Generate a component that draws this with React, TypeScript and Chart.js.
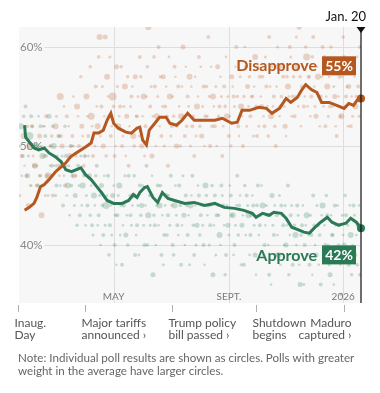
import { useEffect, useRef } from "react";
import { Chart, registerables } from "chart.js";

Chart.register(...registerables);

// ---- Data (days since Jan. 20, 2025) ----
const disapproveDays = [6,11,16,19,23,27,32,39,45,50,55,61,66,71,77,80,85,90,94,98,101,106,114,120,126,129,132,136,139,145,150,157,161,168,174,180,187,198,209,217,227,233,238,246,256,264,270,278,285,290,297,302,306,312,318,323,331,339,347,352,357,363,365];
const disapproveValues = [43.5,43.8,44.2,44.8,45.9,46.1,46.6,47.4,47.9,48.3,48.9,49.3,49.6,49.9,50.3,51.3,51.3,51.6,52.6,53.3,52.3,51.8,51.4,51.3,51.8,51.9,50.6,50.1,51.6,52.3,52.9,52.9,52.3,52.1,52.6,53.3,52.6,52.6,52.6,52.8,52.3,52.4,53.6,53.6,53.9,53.8,53.3,53.8,54.8,54.4,54.9,55.7,56.2,55.7,55.4,54.4,54.4,54.1,53.8,54.3,54.1,54.9,54.8];

const approveDays = [6,7,16,21,27,32,39,45,50,56,66,71,77,83,88,94,101,110,117,122,126,129,134,137,143,148,153,159,166,177,187,198,209,219,230,240,249,253,260,267,272,280,285,291,299,304,310,315,322,329,334,341,349,354,360,365];
const approveValues = [52.1,50.9,49.8,49.6,49.8,49.3,48.9,48.4,47.6,47.4,47.8,47.1,46.6,45.9,45.3,44.5,44.2,44.2,44.5,45.1,44.8,45.3,45.8,45.9,44.8,44.3,45.3,44.7,44.5,44.2,44.3,44.0,44.2,43.8,43.7,43.5,43.2,42.8,43.2,43.0,43.3,43.2,42.7,41.8,41.5,41.3,41.2,41.7,42.3,42.8,42.3,42.0,42.2,42.7,42.3,41.7];

// individual polls: [day, value, weight(radius)]
const disapprovePolls: [number, number, number][] = [
  [3,49,2],[5,51,3],[8,47,2],[10,44,2.5],[12,50,4],[14,52,2],[17,48,3],[19,46,2],[22,51,2.5],[24,43,3],[27,49,2],[29,53,2],[31,47,3.5],[34,50,2],[36,45,2],[39,52,3],[41,48,2],[44,55,3.5],[46,50,2.5],[49,46,2],[51,53,2],[54,49,3],[57,51,2],[59,47,2.5],[62,54,3],[64,50,2],[67,52,2.5],[69,48,2],[72,55,3],[74,51,2],[77,53,3.5],[79,49,2],[82,56,2],[84,52,3],[86,61,3],[88,54,2],[90,50,2.5],[92,61,2.5],[94,57,3],[96,53,2],[98,51,2],[100,55,4],[102,49,2],[104,58,2.5],[106,52,3],[108,54,2],[110,50,2],[113,56,3],[115,53,2.5],[117,48,2],[120,55,2],[122,51,3],[124,57,2.5],[126,53,2],[129,59,2],[131,50,2.5],[133,55,3],[135,52,2],[138,62,3],[140,54,2],[142,49,2.5],[145,56,2],[147,53,3],[149,60,2],[152,51,2],[154,57,2.5],[156,54,2],[159,48,2],[161,55,3],[163,52,2],[166,58,2],[168,50,2.5],[170,56,2],[173,53,3],[175,60,2.5],[177,51,2],[180,55,2],[182,57,3],[185,52,2],[187,49,2],[190,54,3],[192,59,2],[195,51,2.5],[197,56,2],[199,53,2],[202,61,2],[204,50,2],[207,55,3],[209,52,2],[212,58,2.5],[214,54,2],[217,49,2],[219,56,2],[222,53,3],[224,51,2],[227,57,2.5],[229,55,2],[232,60,2],[234,52,2],[237,54,3],[239,50,2],[242,58,2],[244,56,2.5],[247,53,2],[249,55,2],[252,59,3],[254,51,2],[257,57,2],[259,54,2.5],[262,52,2],[264,56,2],[267,61,2],[269,53,3],[272,55,2],[274,50,2],[277,58,3],[279,54,2],[282,57,2],[284,52,2.5],[287,56,3],[289,60,2],[292,55,2],[294,53,2],[297,58,3],[299,62,2.5],[302,56,2],[304,54,2],[307,59,3.5],[309,57,2],[312,55,2],[314,61,2],[317,53,2.5],[319,57,3],[322,55,2],[324,60,2],[327,52,2],[329,56,3],[332,54,2],[334,58,2],[337,55,2.5],[339,51,2],[342,57,2],[344,53,3],[347,59,2],[349,55,2],[352,56,2.5],[354,52,2],[357,58,2],[359,54,3],[362,56,2],[364,60,2],
  [1,45,1.5],[6,48,1.3],[9,52,1.8],[13,46,1.3],[15,49,1.5],[20,50,1.3],[23,47,1.8],[26,52,1.3],[28,45,1.5],[33,48,1.3],[35,51,1.8],[38,49,1.3],[40,53,1.5],[43,47,1.3],[45,51,1.8],[48,54,1.3],[50,48,1.5],[53,52,1.3],[56,50,1.8],[58,55,1.3],[61,49,1.5],[63,53,1.3],[66,57,1.8],[68,51,1.3],[71,49,1.5],[73,53,1.3],[76,58,1.8],[78,52,1.3],[81,50,1.5],[83,54,1.3],[85,59,1.8],[87,51,1.3],[89,56,1.5],[91,53,1.3],[93,49,1.8],[95,55,1.3],[97,59,1.5],[99,52,1.3],[101,54,1.8],[103,50,1.3],[105,56,1.5],[107,53,1.3],[109,58,1.8],[111,51,1.3],[112,54,1.5],[114,49,1.3],[116,57,1.8],[118,52,1.3],[119,54,1.5],[121,56,1.3],[123,50,1.8],[125,53,1.3],[127,55,1.5],[128,51,1.3],[130,57,1.8],[132,53,1.3],[134,49,1.5],[136,55,1.3],[137,58,1.8],[139,51,1.3],[141,56,1.5],[143,53,1.3],[144,59,1.8],[146,50,1.3],[148,55,1.5],[150,52,1.3],[151,57,1.8],[153,54,1.3],[155,50,1.5],[157,56,1.3],[158,53,1.8],[160,59,1.3],[162,51,1.5],[164,55,1.3],[165,53,1.8],[167,57,1.3],[169,52,1.5],[171,54,1.3],[172,50,1.8],[174,56,1.3],[176,53,1.5],[178,58,1.3],[179,52,1.8],[181,54,1.3],[183,50,1.5],[184,56,1.3],[186,53,1.8],[188,57,1.3],[189,51,1.5],[191,55,1.3],[193,52,1.8],[194,58,1.3],[196,54,1.5],[198,50,1.3],[200,56,1.8],[201,53,1.3],[203,55,1.5],[205,58,1.3],[206,52,1.8],[208,54,1.3],[210,56,1.5],[211,50,1.3],[213,53,1.8],[215,57,1.3],[216,55,1.5],[218,52,1.3],[220,54,1.8],[221,59,1.3],[223,55,1.5],[225,53,1.3],[226,50,1.8],[228,56,1.3],[230,54,1.5],[231,58,1.3],[233,55,1.8],[235,51,1.3],[236,57,1.5],[238,53,1.3],[240,55,1.8],[241,60,1.3],[243,52,1.5],[245,54,1.3],[246,57,1.8],[248,55,1.3],[250,51,1.5],[251,56,1.3],[253,54,1.8],[255,58,1.3],[256,52,1.5],[258,55,1.3],[260,57,1.8],[261,53,1.3],[263,59,1.5],[265,54,1.3],[266,51,1.8],[268,56,1.3],[270,58,1.5],[271,54,1.3],[273,52,1.8],[275,56,1.3],[276,60,1.5],[278,53,1.3],[280,55,1.8],[281,58,1.3],[283,54,1.5],[285,51,1.3],[286,57,1.8],[288,55,1.3],[290,59,1.5],[291,53,1.3],[293,57,1.8],[295,55,1.3],[296,61,1.5],[298,54,1.3],[300,57,1.8],[301,52,1.3],[303,58,1.5],[305,55,1.3],[306,60,1.8],[308,54,1.3],[310,57,1.5],[311,53,1.3],[313,59,1.8],[315,56,1.3],[316,54,1.5],[318,58,1.3],[320,55,1.8],[321,52,1.3],[323,57,1.5],[325,54,1.3],[326,59,1.8],[328,55,1.3],[330,53,1.5],[331,57,1.3],[333,60,1.8],[335,54,1.3],[336,56,1.5],[338,52,1.3],[340,58,1.8],[341,55,1.3],[343,53,1.5],[345,57,1.3],[346,61,1.8],[348,54,1.3],[350,56,1.5],[351,52,1.3],[353,58,1.8],[355,55,1.3],[356,53,1.5],[358,57,1.3],[360,55,1.8],[361,59,1.3],[363,53,1.5]
];

const approvePolls: [number, number, number][] = [
  [2,52,3],[4,49,2],[7,54,2],[9,47,2.5],[11,51,4],[13,53,2],[16,48,2],[18,50,3.5],[20,46,2],[23,52,2],[25,49,3],[28,51,2],[30,47,2],[32,53,2.5],[35,48,2],[37,50,3],[40,46,2],[42,51,2],[45,48,2.5],[47,44,2],[50,49,2],[52,46,3],[55,50,2],[57,47,2],[60,45,2.5],[63,48,2],[65,43,2],[68,46,3],[70,49,2],[73,44,2],[75,47,2.5],[78,42,2],[80,45,3],[83,48,2],[85,43,2],[88,46,2.5],[90,41,2],[93,44,3.5],[95,47,2],[97,42,2],[100,45,2.5],[102,40,2],[105,43,2],[107,46,3],[110,38,2],[112,44,2],[114,41,2.5],[117,47,2],[119,43,2],[122,45,3],[124,39,2],[126,42,2],[129,46,2],[131,44,2.5],[134,40,2],[136,48,2],[138,43,3],[141,45,2],[143,37,2.5],[145,42,2],[148,46,2],[150,44,3],[152,39,2],[155,41,2],[157,45,2.5],[159,43,2],[162,47,2],[164,40,2],[166,44,3],[169,42,2],[171,46,2],[173,38,2],[176,43,2.5],[178,45,2],[180,41,2],[183,44,3],[185,47,2],[187,39,2],[190,42,2.5],[192,45,2],[194,43,2],[197,40,2],[199,46,3],[202,44,2],[204,42,2],[207,37,2.5],[209,45,2],[211,43,2],[214,41,3],[216,46,2],[218,44,2],[221,39,2],[223,42,2.5],[226,45,2],[228,43,3],[230,40,2],[233,47,2],[235,44,2],[238,42,2.5],[240,38,2],[243,45,2],[245,43,3],[247,41,2],[250,44,2],[252,39,2.5],[255,46,2],[257,42,2],[260,44,3],[262,40,2],[265,43,2],[267,37,2],[270,45,2.5],[272,41,2],[275,43,2],[277,39,3],[280,44,2],[282,42,2],[285,40,2.5],[287,46,2],[290,43,2],[292,38,2],[295,41,3],[297,44,2],[300,36,2.5],[302,42,2],[305,40,2],[307,43,3],[310,38,2],[312,41,2],[314,45,2],[317,39,2.5],[319,42,2],[322,36,2],[324,44,3],[327,40,2],[329,43,2],[332,37,2.5],[334,41,2],[337,44,2],[339,39,3],[342,42,2],[344,35,2],[347,40,2.5],[349,43,2],[352,38,2],[354,41,3],[357,44,2],[359,39,2],[362,42,2.5],[364,37,2],
  [1,50,1.5],[3,47,1.3],[5,53,1.8],[8,51,1.3],[10,49,1.5],[12,46,1.3],[14,52,1.8],[17,50,1.3],[19,48,1.5],[21,53,1.3],[22,47,1.8],[24,50,1.3],[26,46,1.5],[27,52,1.3],[29,49,1.8],[31,45,1.3],[33,50,1.5],[34,47,1.3],[36,52,1.8],[38,48,1.3],[39,45,1.5],[41,49,1.3],[43,51,1.8],[44,46,1.3],[46,49,1.5],[48,47,1.3],[49,52,1.8],[51,45,1.3],[53,48,1.5],[54,43,1.3],[56,46,1.8],[58,50,1.3],[59,44,1.5],[61,47,1.3],[62,42,1.8],[64,46,1.3],[66,49,1.5],[67,44,1.3],[69,47,1.8],[71,42,1.3],[72,45,1.5],[74,49,1.3],[76,43,1.8],[77,46,1.3],[79,41,1.5],[81,44,1.3],[82,47,1.8],[84,42,1.3],[86,45,1.5],[87,40,1.3],[89,44,1.8],[91,47,1.3],[92,42,1.5],[94,45,1.3],[96,39,1.8],[98,44,1.3],[99,41,1.5],[101,46,1.3],[103,43,1.8],[104,38,1.3],[106,45,1.5],[108,41,1.3],[109,44,1.8],[111,42,1.3],[113,47,1.5],[115,43,1.3],[116,40,1.8],[118,45,1.3],[120,42,1.5],[121,44,1.3],[123,47,1.8],[125,41,1.3],[127,44,1.5],[128,39,1.3],[130,43,1.8],[132,46,1.3],[133,42,1.5],[135,44,1.3],[137,40,1.8],[139,45,1.3],[140,42,1.5],[142,47,1.3],[144,43,1.8],[146,40,1.3],[147,44,1.5],[149,42,1.3],[151,46,1.8],[153,43,1.3],[154,38,1.5],[156,44,1.3],[158,41,1.8],[160,45,1.3],[161,42,1.5],[163,44,1.3],[165,39,1.8],[167,46,1.3],[168,43,1.5],[170,41,1.3],[172,44,1.8],[174,42,1.3],[175,47,1.5],[177,40,1.3],[179,44,1.8],[181,43,1.3],[182,38,1.5],[184,45,1.3],[186,42,1.8],[188,44,1.3],[189,40,1.5],[191,46,1.3],[193,41,1.8],[195,44,1.3],[196,42,1.5],[198,38,1.3],[200,45,1.8],[201,43,1.3],[203,40,1.5],[205,44,1.3],[206,46,1.8],[208,42,1.3],[210,39,1.5],[212,44,1.3],[213,43,1.8],[215,40,1.3],[217,45,1.5],[219,42,1.3],[220,37,1.8],[222,44,1.3],[224,41,1.5],[225,46,1.3],[227,43,1.8],[229,39,1.3],[231,42,1.5],[232,44,1.3],[234,41,1.8],[236,45,1.3],[237,38,1.5],[239,43,1.3],[241,46,1.8],[242,41,1.3],[244,44,1.5],[246,39,1.3],[248,43,1.8],[249,45,1.3],[251,42,1.5],[253,37,1.3],[254,44,1.8],[256,41,1.3],[258,43,1.5],[259,46,1.3],[261,39,1.8],[263,42,1.3],[264,44,1.5],[266,40,1.3],[268,43,1.8],[269,36,1.3],[271,42,1.5],[273,44,1.3],[274,39,1.8],[276,41,1.3],[278,45,1.5],[279,38,1.3],[281,43,1.8],[283,40,1.3],[284,44,1.5],[286,42,1.3],[288,37,1.8],[289,41,1.3],[291,44,1.5],[293,39,1.3],[294,42,1.8],[296,40,1.3],[298,43,1.5],[299,38,1.3],[301,41,1.8],[303,44,1.3],[304,36,1.5],[306,42,1.3],[308,39,1.8],[309,41,1.3],[311,43,1.5],[313,37,1.3],[315,42,1.8],[316,40,1.3],[318,44,1.5],[320,38,1.3],[321,41,1.8],[323,43,1.3],[325,39,1.5],[326,42,1.3],[328,45,1.8],[330,40,1.3],[331,38,1.5],[333,43,1.3],[335,41,1.8],[336,36,1.3],[338,42,1.5],[340,44,1.3],[341,40,1.8],[343,38,1.3],[345,43,1.5],[346,41,1.3],[348,45,1.8],[350,39,1.3],[351,42,1.5],[353,44,1.3],[355,37,1.8],[356,40,1.3],[358,43,1.5],[360,41,1.3],[361,38,1.8],[363,44,1.3]
];

const yTickValues = [40, 50, 60];
const monthTickDays = [101, 224, 346];
const monthTickLabels = ["MAY", "SEPT.", "2026"];
const eventDays = [0, 72, 164, 254, 348];
const eventLabels = [
  ["Inaug.", "Day"],
  ["Major tariffs", "announced \u203a"],
  ["Trump policy", "bill passed \u203a"],
  ["Shutdown", "begins"],
  ["Maduro", "captured \u203a"],
];
const endDay = 365;
const endLabel = "Jan. 20";
const seriesNames = ["Disapprove", "Approve"];
const seriesFinal = ["55%", "42%"];
const seriesLabelAt = [58.1, 39.0];
const noteLines = [
  "Note: Individual poll results are shown as circles. Polls with greater",
  "weight in the average have larger circles.",
];

const ORANGE = "#b5581f";
const GREEN = "#2b7a56";
const FONT = "Lato, Roboto, 'Liberation Sans', Arial, sans-serif";

const decorPlugin = {
  id: "decor",
  beforeDatasetsDraw(chart: any) {
    const { ctx, chartArea: a, scales } = chart;
    const x = scales.x, y = scales.y;
    ctx.save();
    ctx.fillStyle = "#f7f7f7";
    ctx.fillRect(a.left, a.top, a.right - a.left, a.bottom - a.top);
    ctx.strokeStyle = "#dedede";
    ctx.lineWidth = 1;
    monthTickDays.forEach((d) => {
      const px = Math.round(x.getPixelForValue(d)) + 0.5;
      ctx.beginPath();
      ctx.moveTo(px, a.top);
      ctx.lineTo(px, a.bottom);
      ctx.stroke();
    });
    ctx.font = `11.5px ${FONT}`;
    ctx.textBaseline = "middle";
    ctx.textAlign = "left";
    yTickValues.forEach((v) => {
      const py = Math.round(y.getPixelForValue(v)) + 0.5;
      const lbl = `${v}%`;
      const w = ctx.measureText(lbl).width;
      ctx.fillStyle = "#8a8a8a";
      ctx.fillText(lbl, a.left + 1, py);
      ctx.beginPath();
      ctx.moveTo(a.left + w + 3, py);
      ctx.lineTo(a.right, py);
      ctx.stroke();
    });
    ctx.font = `10px ${FONT}`;
    ctx.textAlign = "center";
    ctx.textBaseline = "alphabetic";
    ctx.fillStyle = "#7a7a7a";
    monthTickDays.forEach((d, i) => {
      ctx.fillText(monthTickLabels[i], x.getPixelForValue(d), a.bottom - 3);
    });
    ctx.restore();
  },
  afterDatasetsDraw(chart: any) {
    const { ctx, chartArea: a, scales } = chart;
    const x = scales.x, y = scales.y;
    const xe = x.getPixelForValue(endDay);
    ctx.save();
    ctx.strokeStyle = "#111";
    ctx.lineWidth = 1.2;
    ctx.beginPath();
    ctx.moveTo(xe, a.top);
    ctx.lineTo(xe, a.bottom);
    ctx.stroke();
    ctx.fillStyle = "#111";
    ctx.beginPath();
    ctx.moveTo(xe - 4.5, a.top);
    ctx.lineTo(xe + 4.5, a.top);
    ctx.lineTo(xe, a.top + 6);
    ctx.closePath();
    ctx.fill();
    ctx.font = `13px ${FONT}`;
    ctx.textAlign = "right";
    ctx.textBaseline = "alphabetic";
    ctx.fillText(endLabel, xe + 5, a.top - 6);

    const colors = [ORANGE, GREEN];
    seriesNames.forEach((name, i) => {
      const cy = y.getPixelForValue(seriesLabelAt[i]);
      const bx = xe - 39, bw = 34, bh = 19;
      ctx.fillStyle = colors[i];
      ctx.fillRect(bx, cy - bh / 2, bw, bh);
      ctx.font = `bold 14px ${FONT}`;
      ctx.textAlign = "center";
      ctx.textBaseline = "middle";
      ctx.fillStyle = "#fff";
      ctx.fillText(seriesFinal[i], bx + bw / 2, cy + 0.5);
      ctx.font = `bold 16px ${FONT}`;
      ctx.textAlign = "right";
      ctx.fillStyle = colors[i];
      ctx.fillText(name, bx - 5, cy + 0.5);
    });

    ctx.strokeStyle = "#b0b0b0";
    ctx.lineWidth = 1;
    ctx.font = `12px ${FONT}`;
    ctx.textBaseline = "alphabetic";
    ctx.fillStyle = "#555";
    eventDays.forEach((d, i) => {
      const px = Math.round(x.getPixelForValue(d)) - 0.5;
      ctx.beginPath();
      ctx.moveTo(px, a.bottom + 2);
      ctx.lineTo(px, a.bottom + 9);
      ctx.stroke();
      const rightAlign = px > a.right - 40;
      ctx.textAlign = rightAlign ? "right" : "left";
      const tx = rightAlign ? px + 7 : px - 4;
      eventLabels[i].forEach((line, j) => {
        ctx.fillText(line, tx, a.bottom + 24 + j * 12);
      });
    });

    ctx.font = `11.6px ${FONT}`;
    ctx.fillStyle = "#666";
    ctx.textAlign = "left";
    noteLines.forEach((line, j) => {
      ctx.fillText(line, 18, a.bottom + 58.5 + j * 13);
    });
    ctx.restore();
  },
};

export default function App() {
  const ref = useRef<HTMLCanvasElement>(null);
  useEffect(() => {
    if (!ref.current) return;
    const lastIdx = (arr: number[]) => arr.length - 1;
    const chart = new Chart(ref.current, {
      type: "line",
      data: {
        datasets: [
          {
            type: "line",
            label: "Disapprove",
            data: disapproveDays.map((d, i) => ({ x: d, y: disapproveValues[i] })),
            borderColor: ORANGE,
            backgroundColor: ORANGE,
            borderWidth: 3,
            tension: 0,
            pointRadius: (c: any) => (c.dataIndex === lastIdx(disapproveDays) ? 4 : 0),
            pointBorderWidth: 0,
            order: 0,
            clip: 6,
          } as any,
          {
            type: "line",
            label: "Approve",
            data: approveDays.map((d, i) => ({ x: d, y: approveValues[i] })),
            borderColor: GREEN,
            backgroundColor: GREEN,
            borderWidth: 3,
            tension: 0,
            pointRadius: (c: any) => (c.dataIndex === lastIdx(approveDays) ? 4 : 0),
            pointBorderWidth: 0,
            order: 0,
            clip: 6,
          } as any,
          {
            type: "bubble",
            label: "Disapprove polls",
            data: disapprovePolls.map(([d, v, r]) => ({ x: d, y: v, r })),
            backgroundColor: "rgba(200,120,75,0.3)",
            borderWidth: 0,
            order: 1,
          } as any,
          {
            type: "bubble",
            label: "Approve polls",
            data: approvePolls.map(([d, v, r]) => ({ x: d, y: v, r })),
            backgroundColor: "rgba(70,140,105,0.28)",
            borderWidth: 0,
            order: 1,
          } as any,
        ],
      },
      options: {
        animation: false,
        responsive: false,
        maintainAspectRatio: false,
        layout: { padding: { left: 19, right: 19, top: 27, bottom: 90 } },
        scales: {
          x: { type: "linear", min: 0, max: 365, display: false },
          y: { type: "linear", min: 34.14, max: 62.02, display: false },
        },
        plugins: { legend: { display: false }, tooltip: { enabled: false } },
        events: [],
      },
      plugins: [decorPlugin],
    });
    return () => chart.destroy();
  }, []);
  return (
    <div style={{ position: "absolute", left: 0, top: 0, width: 380, height: 393, background: "#fff" }}>
      <canvas ref={ref} width={380} height={393} style={{ width: 380, height: 393, display: "block" }} />
    </div>
  );
}
